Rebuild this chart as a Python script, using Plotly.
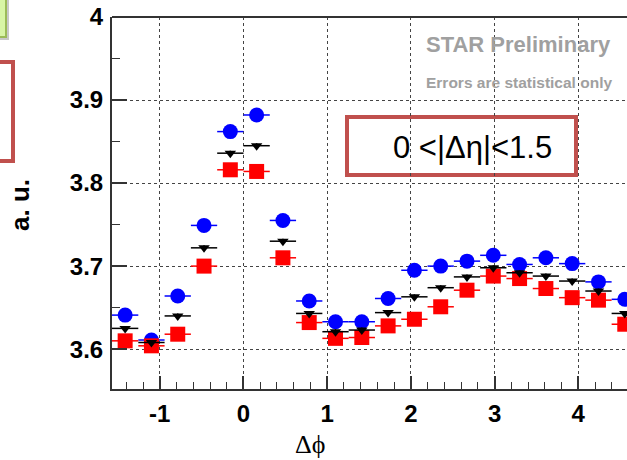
import numpy as np
import plotly.graph_objects as go

# Delta-phi bin centres (20 bins of width pi/10 from -pi/2 to 3pi/2)
bin_width = np.pi / 10
dphi = -np.pi / 2 + bin_width / 2 + bin_width * np.arange(20)
half_width = np.full(20, bin_width / 2)

# Correlation amplitudes (a. u.) for the three samples
blue_vals = [3.641, 3.611, 3.664, 3.749, 3.862, 3.882, 3.755, 3.658, 3.633, 3.633,
             3.661, 3.695, 3.700, 3.706, 3.713, 3.702, 3.710, 3.703, 3.681, 3.660]
black_vals = [3.625, 3.608, 3.640, 3.722, 3.836, 3.845, 3.730, 3.643, 3.621, 3.623,
              3.644, 3.663, 3.674, 3.687, 3.698, 3.692, 3.688, 3.682, 3.670, 3.643]
red_vals = [3.610, 3.604, 3.618, 3.700, 3.816, 3.814, 3.710, 3.632, 3.613, 3.614,
            3.628, 3.636, 3.651, 3.671, 3.688, 3.685, 3.673, 3.662, 3.659, 3.630]
stat_err = [0.003] * 20

x_tick_vals = [-1, 0, 1, 2, 3, 4]
x_tick_text = ["-1", "0", "1", "2", "3", "4"]
y_tick_vals = [3.6, 3.7, 3.8, 3.9, 4.0]
y_tick_text = ["3.6", "3.7", "3.8", "3.9", "4"]

W, H = 627, 460
ML, MT, MB, MR = 112, 17, 71, 0
X_RANGE = [-np.pi / 2, 4.582]
Y_RANGE = [3.552, 4.0]
PW, PH = W - ML - MR, H - MT - MB


def px(x):
    """Pixel column -> paper x."""
    return (x - ML) / PW


def py(y):
    """Pixel row -> paper y."""
    return 1 - (y - MT) / PH


fig = go.Figure()


def add_series(vals, color, symbol, size):
    fig.add_trace(go.Scatter(
        x=dphi, y=vals, mode="markers",
        marker=dict(symbol=symbol, size=size, color=color, line=dict(width=0)),
        error_x=dict(type="data", array=half_width, color=color, thickness=1.5, width=0),
        error_y=dict(type="data", array=stat_err, color=color, thickness=1.5, width=0),
        showlegend=False, cliponaxis=True,
    ))


add_series(blue_vals, "#0000ff", "circle", 15)
add_series(red_vals, "#ff0000", "square", 15)
add_series(black_vals, "#000000", "triangle-down", 10)

axis_font = dict(family="Liberation Sans, Arial", size=24, color="black", weight="bold")

fig.update_xaxes(
    range=X_RANGE, tickvals=x_tick_vals, ticktext=x_tick_text,
    ticks="inside", ticklen=13, tickwidth=1.5, tickcolor="#333",
    showline=True, linecolor="#333", linewidth=2,
    showgrid=True, gridcolor="#444", griddash="dot", gridwidth=1,
    zeroline=False, tickfont=axis_font, ticklabelstandoff=2,
    minor=dict(dtick=0.2, tick0=0, ticks="inside", ticklen=7, tickwidth=1.2,
               tickcolor="#333", showgrid=False),
)
fig.update_yaxes(
    range=Y_RANGE, tickvals=y_tick_vals, ticktext=y_tick_text,
    ticks="inside", ticklen=15, tickwidth=1.5, tickcolor="#333",
    showline=True, linecolor="#333", linewidth=2,
    showgrid=True, gridcolor="#444", griddash="dot", gridwidth=1,
    zeroline=False, tickfont=axis_font, ticklabelstandoff=2,
    minor=dict(dtick=0.05, tick0=3.5, ticks="inside", ticklen=8, tickwidth=1.2,
               tickcolor="#333", showgrid=False),
)

shapes = [
    # top frame edge
    dict(type="line", xref="paper", yref="paper", x0=0, x1=1, y0=1, y1=1,
         line=dict(color="#333", width=2)),
    # eta-gap label box
    dict(type="rect", xref="paper", yref="paper",
         x0=px(347), x1=px(576), y0=py(175), y1=py(117),
         line=dict(color="#c0504d", width=4), fillcolor="white", layer="below"),
    # side panels at the left edge
    dict(type="rect", xref="paper", yref="paper",
         x0=px(-6), x1=px(8), y0=py(39), y1=py(-6),
         line=dict(color="#c8c8c8", width=2), fillcolor="#c8c8c8", layer="above"),
    dict(type="rect", xref="paper", yref="paper",
         x0=px(-6), x1=px(6), y0=py(37), y1=py(-6),
         line=dict(color="#9bbb59", width=2), fillcolor="#d8f5a6", layer="above"),
    dict(type="rect", xref="paper", yref="paper",
         x0=px(-6), x1=px(13), y0=py(161), y1=py(62),
         line=dict(color="#c0504d", width=4), fillcolor="white", layer="above"),
]

annotations = [
    dict(text="STAR Preliminary", x=px(518), y=py(44), xref="paper", yref="paper",
         showarrow=False, xanchor="center", yanchor="middle",
         font=dict(family="Liberation Sans, Arial", size=22, color="#a0a0a0", weight="bold")),
    dict(text="Errors are statistical only", x=px(519), y=py(82), xref="paper", yref="paper",
         showarrow=False, xanchor="center", yanchor="middle",
         font=dict(family="Liberation Sans, Arial", size=15.5, color="#a0a0a0", weight="bold")),
    dict(text="0 <|Δη|<1.5", x=px(472), y=py(147), xref="paper", yref="paper",
         showarrow=False, xanchor="center", yanchor="middle",
         font=dict(family="Liberation Sans, Arial", size=31, color="black")),
    dict(text="a. u.", x=px(20), y=py(205), xref="paper", yref="paper",
         showarrow=False, xanchor="center", yanchor="middle", textangle=-90,
         font=dict(family="Liberation Sans, Arial", size=26, color="black", weight="bold")),
    dict(text="Δϕ", x=px(310), y=py(444), xref="paper", yref="paper",
         showarrow=False, xanchor="center", yanchor="middle",
         font=dict(family="Liberation Serif, DejaVu Serif, serif", size=26, color="black")),
]

fig.update_layout(
    width=W, height=H,
    margin=dict(l=ML, r=MR, t=MT, b=MB, pad=0),
    plot_bgcolor="white", paper_bgcolor="white",
    shapes=shapes, annotations=annotations,
    showlegend=False,
)

fig.write_html("out.html")
